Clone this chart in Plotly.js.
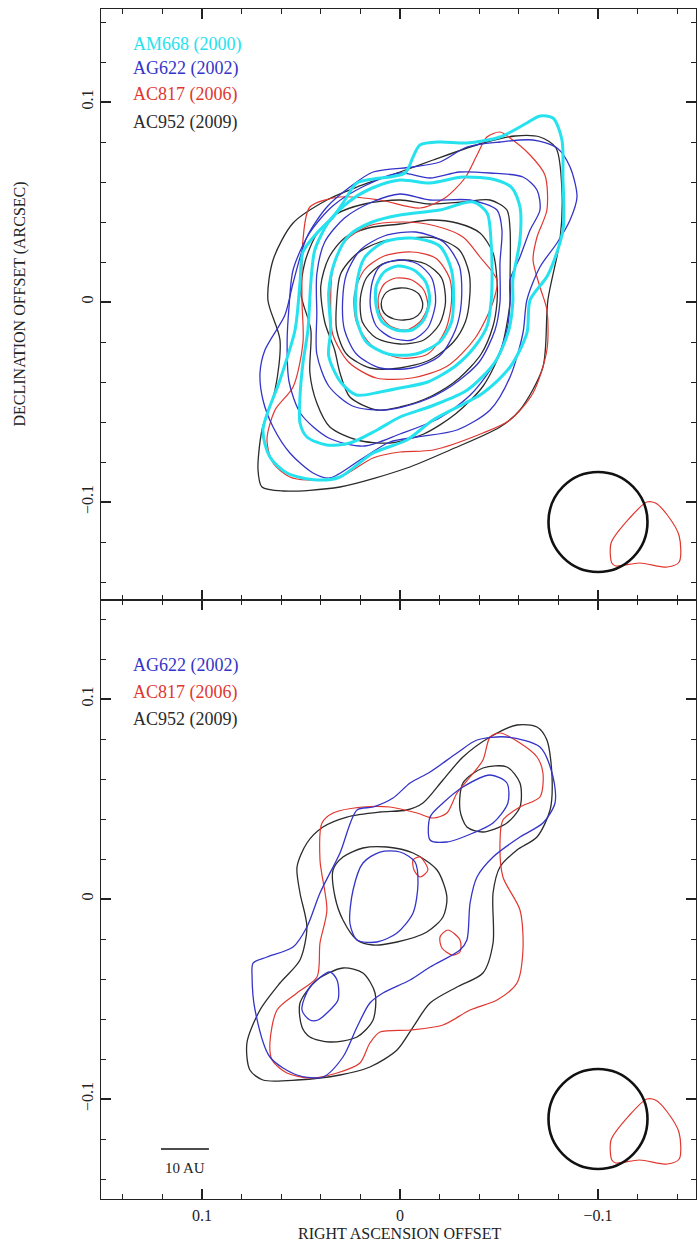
<!DOCTYPE html>
<html><head><meta charset="utf-8">
<script src="https://cdn.plot.ly/plotly-3.0.1.min.js"></script>
<style>html,body{margin:0;padding:0;background:#fff}#plot{width:697px;height:1242px}</style>
</head><body><div id="plot"></div>
<script>
// ---- DATA (milliarcseconds; x = RA offset, positive to the left) ----
// Top panel, AC952 (2009) black
const topK1 = [[-11.5,-1],[-9.5,4],[-5,6.5],[0,7],[5,6],[8,3.5],[9.5,-1],[8,-5.5],[3,-8.5],[-2,-9],[-7,-8],[-10.5,-5]];
const topK2 = [[-23,0],[-21,12],[-13,19],[-2,21],[9,19],[17,12],[20,2],[19,-10],[12,-18],[0,-21],[-12,-19],[-20,-11]];
const topK3 = [[-35,0],[-35,14],[-30,26],[-18,32],[-4,32],[10,30],[22,24],[30,14],[32,0],[32,-14],[27,-26],[15,-33],[0,-33],[-15,-29],[-27,-20],[-33,-10]];
const topK4 = [[-49,0],[-49,11],[-47,24.5],[-40.4,34.5],[-28.8,39.5],[-15.2,41],[0,39],[16,37],[28,32],[36,22],[40,8],[38,-10],[33,-24],[30.3,-35.5],[25.3,-47.5],[11.6,-54],[0,-52.5],[-16,-47],[-30,-38],[-41,-26],[-47,-12]];
const topK5 = [[-55.6,0],[-55.6,11],[-55.6,36],[-54,46],[-45.5,51],[-31.8,50],[-15.2,49],[0,51],[18,49],[32,44],[42,34],[48,20],[50,4],[45,-14],[45.5,-35.5],[42,-50.5],[35.4,-62.5],[21.7,-69],[5,-70.5],[-12,-66],[-28,-56],[-42,-42],[-51,-24]];
const topK6 = [[-74.7,1],[-80.8,31],[-81.8,56],[-78.8,77],[-70.7,82.5],[-58.1,83],[-41.9,79.5],[-16.7,71],[0,65],[21.7,57.5],[36.9,51],[54,39.5],[64.1,21],[66.7,1],[60.6,-19],[63.1,-44],[69.7,-64],[71.7,-84],[69.7,-92.5],[59.1,-94.5],[30.3,-92.5],[-3.5,-83],[-25.3,-74],[-50.5,-62.5],[-60.6,-54],[-72.2,-32.5]];
// Top panel, AG622 (2002) blue
const topG1 = [[-18,0],[-16,12],[-9,19],[1,21],[10,18],[14,10],[15,-2],[12,-12],[4,-18],[-6,-19],[-14,-13]];
const topG2 = [[-31,0],[-30,18],[-22,30],[-8,35],[8,33],[20,26],[27,14],[29,0],[28,-14],[22,-26],[10,-33],[-6,-33],[-20,-27],[-28,-14]];
const topG3 = [[-50.5,0],[-50.5,19.5],[-51.5,36],[-49,46],[-35.4,51],[-15.2,51],[0,54],[14,50],[28,42],[38,30],[42,14],[42,-6],[42,-26],[36,-42],[24,-52],[8,-54],[-10,-50],[-26,-42],[-40,-30],[-48,-14]];
const topG4 = [[-55.6,0],[-55.6,11],[-60.6,22.5],[-65.7,36],[-70.7,46],[-69.2,56],[-62.1,62.5],[-45.5,64.5],[-30,65],[-15.2,62],[0,64.5],[18,58],[34,48],[46,34],[54,16],[56,-2],[57,-20],[56,-40],[50,-56],[36,-68],[18,-72],[0,-66],[-20,-58],[-36,-46],[-48,-30],[-54,-14]];
const topG5 = [[-64.1,1],[-70.7,17.5],[-79.3,29.5],[-85.9,41],[-89.4,52.5],[-85.9,67.5],[-79.3,77],[-67.2,81],[-50.5,80],[-33.8,77.5],[-20.2,70],[-6.6,67.5],[13.6,65],[25.3,57.5],[36.9,47.5],[47,32.5],[54,9.5],[58.1,-6.5],[68.2,-24],[70.7,-35.5],[69.2,-49],[64.1,-62.5],[55.6,-75.5],[43.9,-85.5],[35.4,-88],[20.2,-79],[5.1,-70],[-8.6,-67.5],[-28.8,-64],[-45.5,-54],[-55.6,-37.5],[-62.1,-15.5]];
// Top panel, AC817 (2006) red
const topR1 = [[-14,-2],[-12,6],[-6,11],[2,12],[8,9],[11,2],[10,-6],[5,-12],[-3,-14],[-10,-10]];
const topR2 = [[-26,0],[-25,12],[-18,22],[-6,25],[8,23],[18,16],[23,4],[22,-10],[14,-22],[0,-28],[-14,-26],[-23,-14]];
const topR3 = [[-47,0],[-49,11],[-40.4,22.5],[-31.8,32.5],[-18,38],[-2,40],[16,38],[28,30],[34,16],[35,0],[34,-16],[26,-30],[12,-38],[-6,-38],[-24,-32],[-38,-18]];
const topR4 = [[-74.2,-4],[-70.7,7.5],[-67.2,21],[-69.2,32.5],[-74.2,46],[-73.2,63.5],[-65.7,73.5],[-55.6,82],[-50.5,85],[-43.9,82.5],[-38.9,73.5],[-32.8,62],[-22.7,52],[-10.1,47],[10.1,51],[30.3,52.5],[45.5,47.5],[49,31],[49.5,1],[49,-20.5],[54,-42.5],[63.1,-54],[67.2,-69],[64.1,-80.5],[55.6,-87.5],[47,-89],[30.3,-87.5],[13.6,-78],[0,-75],[-16.7,-74],[-41.9,-65.5],[-55.6,-59],[-67.2,-45.5],[-74.2,-24]];
// Top panel, AM668 (2000) cyan
const topC1 = [[-15,1],[-13,10],[-7,16],[1,18],[8,15],[12,8],[12,-2],[9,-10],[2,-14],[-6,-14],[-12,-9]];
const topC2 = [[-27,0],[-26,16],[-20,28],[-6,32],[8,30],[18,22],[22,8],[22,-8],[17,-20],[6,-26],[-8,-26],[-20,-20],[-26,-10]];
const topC3 = [[-46,0],[-46.5,11],[-46,30],[-44,44.5],[-37,50],[-20,46],[0,43.5],[14,40],[26,33],[33,20],[36,5],[35,-14],[36,-27],[30,-40],[22,-46.5],[10,-45],[0,-43],[-14,-40],[-28,-32],[-38,-22],[-44,-12]];
const topC4 = [[-57,0],[-57,11],[-60.6,31],[-60.6,47.5],[-56.6,57],[-48.5,61],[-31.8,62.5],[-15.2,59.5],[0,61],[14,57],[26,50],[36,40],[43,26],[45,10],[46.5,-14],[49,-30.5],[50.5,-47.5],[50.5,-60.5],[47,-67.5],[37,-71.5],[25.3,-70.5],[11.6,-64],[0,-57.5],[-16,-52],[-34,-44],[-48,-30],[-55,-14]];
const topC5 = [[-65.7,1],[-74.7,13.5],[-82.3,36],[-82.3,62.5],[-81.8,81],[-77.3,92],[-70.7,93],[-64.1,89.5],[-50.5,82.5],[-33.8,79.5],[-20.2,80],[-10.1,78.5],[-6.6,72.5],[-2.5,64.5],[21.7,59.5],[27.8,51],[33.8,42.5],[41.9,34.5],[49,25],[50.5,9.5],[53,-14],[60.6,-39],[69.2,-64],[65.7,-77.5],[57.1,-85.5],[41.9,-89],[30.3,-87.5],[13.6,-75.5],[-3.5,-69],[-16.7,-59],[-41.9,-45.5],[-55.6,-32.5],[-64.1,-15.5]];

// Bottom panel, AC952 black
const botK1 = [[77.3,-72],[70.7,-55.5],[60.6,-42],[50.5,-30.5],[47,-14],[50.5,3],[52,16],[47,28],[38.9,36],[26.8,41],[10.1,43.5],[-3.5,44.5],[-11.6,48],[-21.7,59.5],[-31.8,71],[-45.5,81],[-59.1,87],[-69.2,86],[-74.2,79.5],[-76.8,61],[-75.8,44.5],[-69.2,31],[-59.1,24.5],[-50.5,16],[-47,3],[-47,-22],[-41.9,-37],[-28.8,-44],[-15.2,-52],[-6.6,-64],[1.5,-75.5],[15.2,-84],[30.3,-88],[52,-90.5],[69.2,-90.5],[75.8,-85.5]];
const botK2 = [[33.8,14.5],[28.8,21],[18.7,25.5],[6.6,26],[-6.6,23],[-18.7,14.5],[-23.7,1],[-21.7,-9],[-13.6,-16.5],[1.5,-21.5],[13.6,-23],[21.7,-20.5],[28.8,-10.5],[32.8,1]];
const botK3 = [[-30.3,44.5],[-31.8,58],[-41.9,65.5],[-54,66],[-60.6,58],[-60.6,46],[-54,38],[-41.9,33.5],[-33.8,36]];
const botK4 = [[49.5,-64],[50.5,-52],[41.9,-40.5],[28.8,-34.5],[18.7,-37],[12.6,-47],[13.6,-60.5],[21.7,-69],[35.4,-71.5],[45.5,-69]];
// Bottom panel, AG622 blue
const botG1 = [[74.2,-32],[67.2,-29],[54,-24],[47,-14],[40.4,3],[30.3,23],[21.7,44.5],[13.6,46],[3.5,50.5],[-5.1,58],[-15.2,63.5],[-28.8,73],[-38.9,79.5],[-54,81],[-70.7,76],[-77.3,61],[-78.3,48],[-72.2,38],[-60.6,31],[-47,21],[-38.9,11],[-35.4,-2],[-33.8,-20.5],[-30.3,-25.5],[-15.2,-34],[-5.1,-40.5],[8.6,-47],[15.2,-52],[21.7,-64],[28.8,-79],[38.9,-89],[52,-88],[65.7,-79],[73.2,-55.5],[74.7,-39]];
const botG2 = [[25.3,-12],[23.7,4.5],[18.7,18],[10.1,23.5],[0,23.5],[-7.6,18.5],[-9.1,8],[-6.6,-7],[1.5,-17],[11.6,-21.5],[21.7,-20.5]];
const botG3 = [[-15.2,29.5],[-15.2,41],[-21.7,48],[-31.8,56],[-45.5,62],[-54,58],[-54.5,48],[-47,38],[-36.9,33],[-23.7,28.5]];
const botG4 = [[49.5,-55.5],[45.5,-44],[35.4,-36.5],[31.8,-40.5],[31.3,-50.5],[36.9,-57],[41.4,-60.5],[45.5,-60.5]];
// Bottom panel, AC817 red
const botR1 = [[65.7,-72],[62.1,-55.5],[52,-47],[41.9,-39],[40.4,-22],[36.9,-5.5],[40.4,19.5],[39.4,38],[33.8,43],[18.7,46],[5.1,46],[-8.6,43],[-16.7,40.5],[-23.7,43],[-28.8,53],[-35.4,61],[-41.9,69.5],[-45.5,81],[-50.5,83],[-60.6,78],[-69.2,71],[-72.2,63],[-70.7,51],[-60.6,46],[-52,39.5],[-50.5,28],[-52,11],[-60.6,-5.5],[-62.1,-25.5],[-59.1,-42],[-49,-50.5],[-35.4,-55.5],[-21.7,-63],[-5.1,-65.5],[10.1,-66.5],[15.2,-72],[20.2,-82],[31.8,-87],[45.5,-89.5],[57.1,-87],[64.6,-80.5]];
const botR2 = [[-6.6,19.5],[-10.1,21],[-14.1,14.5],[-10.1,11],[-7.1,14.5]];
const botR3 = [[-20.2,-19],[-24.2,-15.5],[-30.3,-20.5],[-30.3,-26.5],[-26.3,-28],[-21.2,-24.5]];

// Beam (red) contour beside the restoring beam, both panels
const beamRed = [[-124.7,-100],[-116,-108],[-106.6,-120.5],[-107,-130.5],[-109,-132],[-121,-130.5],[-135,-132.5],[-141,-130],[-141,-117],[-135,-106.5],[-129,-100.5]];
const beamCenter = [-100, -110];
const beamRadius = 25;
const scaleBar = [120.7, 96.5, -125];   // x start, x end, y (mas)
const scaleLabel = '10 AU';

const legendTop = ['AM668 (2000)','AG622 (2002)','AC817 (2006)','AC952 (2009)'];
const legendBot = ['AG622 (2002)','AC817 (2006)','AC952 (2009)'];
const xTitle = 'RIGHT ASCENSION OFFSET';
const yTitle = 'DECLINATION OFFSET (ARCSEC)';

// ---- STYLE ----
const COL = {black:'#2b2b2b', blue:'#3434c8', red:'#e0372f', cyan:'#25e2ee'};
const FONT = 'Liberation Serif, Times New Roman, serif';
const toArc = v => v/1000;

function ring(pts, color, width, xa, ya){
  const xs = pts.map(p=>toArc(p[0])); xs.push(xs[0]);
  const ys = pts.map(p=>toArc(p[1])); ys.push(ys[0]);
  return {type:'scatter', mode:'lines', x:xs, y:ys, xaxis:xa, yaxis:ya,
          line:{color:color, width:width, shape:'spline', smoothing:0.8},
          hoverinfo:'skip', showlegend:false};
}

const traces = [];
[topK1,topK2,topK3,topK4,topK5,topK6].forEach(r=>traces.push(ring(r,COL.black,1.3,'x','y')));
[topR1,topR2,topR3,topR4].forEach(r=>traces.push(ring(r,COL.red,1.2,'x','y')));
[topG1,topG2,topG3,topG4,topG5].forEach(r=>traces.push(ring(r,COL.blue,1.3,'x','y')));
[topC1,topC2,topC3,topC4,topC5].forEach(r=>traces.push(ring(r,COL.cyan,3,'x','y')));
traces.push(ring(beamRed,COL.red,1.2,'x','y'));

[botK1,botK2,botK3,botK4].forEach(r=>traces.push(ring(r,COL.black,1.3,'x2','y2')));
[botR1,botR2,botR3].forEach(r=>traces.push(ring(r,COL.red,1.2,'x2','y2')));
[botG1,botG2,botG3,botG4].forEach(r=>traces.push(ring(r,COL.blue,1.3,'x2','y2')));
traces.push(ring(beamRed,COL.red,1.2,'x2','y2'));

const axCommon = {showgrid:false, zeroline:false, showline:true, linecolor:'#222', linewidth:1.3,
  mirror:'allticks', ticks:'inside', ticklen:10, tickwidth:1.2, tickcolor:'#222',
  dtick:0.1, tick0:0, tickfont:{family:FONT, size:16, color:'#222'},
  minor:{dtick:0.02, tick0:0, ticks:'inside', ticklen:5, tickwidth:1, tickcolor:'#222'}};

const xRange = [0.151, -0.1495];
const split = 0.50336;

const layout = {
  width:697, height:1242, margin:{l:101, r:1, t:9, b:43},
  paper_bgcolor:'#fff', plot_bgcolor:'#fff', showlegend:false,
  xaxis: Object.assign({}, axCommon, {anchor:'y', range:xRange, showticklabels:false}),
  yaxis: Object.assign({}, axCommon, {anchor:'x', domain:[split,1], range:[-0.149,0.1465], tickangle:-90}),
  xaxis2: Object.assign({}, axCommon, {anchor:'y2', range:xRange, ticklabelstandoff:1}),
  yaxis2: Object.assign({}, axCommon, {anchor:'x2', domain:[0,split], range:[-0.15,0.1495], tickangle:-90}),
  shapes:[],
  annotations:[]
};

// beam circles
[['x','y'],['x2','y2']].forEach(([xa,ya])=>{
  layout.shapes.push({type:'circle', xref:xa, yref:ya,
    x0:toArc(beamCenter[0]+beamRadius), x1:toArc(beamCenter[0]-beamRadius),
    y0:toArc(beamCenter[1]-beamRadius), y1:toArc(beamCenter[1]+beamRadius),
    line:{color:'#111', width:2.6}});
});
// scale bar
layout.shapes.push({type:'line', xref:'x2', yref:'y2', x0:toArc(scaleBar[0]), x1:toArc(scaleBar[1]),
  y0:toArc(scaleBar[2]), y1:toArc(scaleBar[2]), line:{color:'#111', width:1.3}});
layout.annotations.push({xref:'x2', yref:'y2', x:toArc((scaleBar[0]+scaleBar[1])/2), y:toArc(scaleBar[2]-9.5),
  text:scaleLabel, showarrow:false, font:{family:FONT, size:15, color:'#222'}});

// legends
const topCols = [COL.cyan, COL.blue, COL.red, COL.black];
const topY = [129, 117, 104, 90];
legendTop.forEach((t,i)=>layout.annotations.push({xref:'x', yref:'y', x:toArc(136), y:toArc(topY[i]),
  xanchor:'left', yanchor:'middle', text:t, showarrow:false, font:{family:FONT, size:18, color:topCols[i]}}));
const botCols = [COL.blue, COL.red, COL.black];
const botY = [117, 103.5, 90];
legendBot.forEach((t,i)=>layout.annotations.push({xref:'x2', yref:'y2', x:toArc(136), y:toArc(botY[i]),
  xanchor:'left', yanchor:'middle', text:t, showarrow:false, font:{family:FONT, size:18, color:botCols[i]}}));

// axis titles
layout.annotations.push({xref:'paper', yref:'paper', x:(20-101)/595, y:(split+1)/2, textangle:-90,
  xanchor:'center', yanchor:'middle', text:yTitle, showarrow:false, font:{family:FONT, size:16, color:'#222'}});
layout.annotations.push({xref:'paper', yref:'paper', x:(400-101)/595, y:(1199-1234)/1190,
  xanchor:'center', yanchor:'middle', text:xTitle, showarrow:false, font:{family:FONT, size:16, color:'#222'}});

Plotly.newPlot('plot', traces, layout, {staticPlot:true, displayModeBar:false});
</script></body></html>
